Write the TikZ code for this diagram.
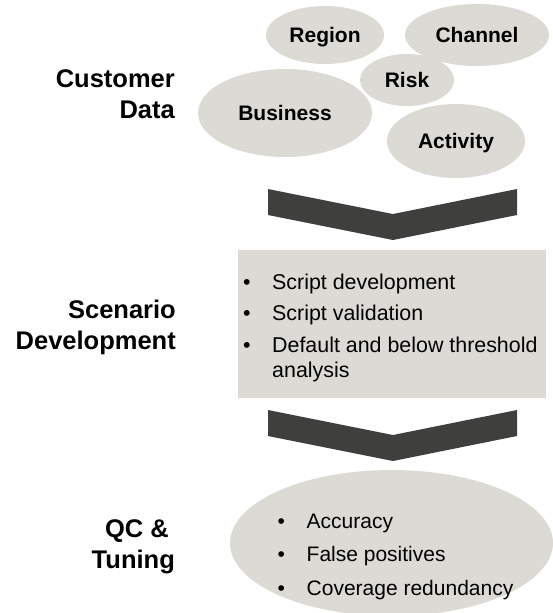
\documentclass[tikz,border=0pt]{standalone}
\usepackage{fontspec}
\setmainfont{Liberation Sans}
\usetikzlibrary{positioning, shapes.geometric}

\definecolor{blobgray}{RGB}{220,218,213}
\definecolor{chevgray}{RGB}{63,63,61}

\tikzset{
    blob/.style={ellipse, fill=blobgray, draw=none, inner sep=0pt},
    panel/.style={rectangle, fill=blobgray, draw=none, inner sep=0pt},
    chevron/.style={fill=chevgray, draw=none},
    bloblabel/.style={font=\fontsize{21}{25}\selectfont\bfseries, text height=15pt, text depth=0pt},
    steplabel/.style={font=\fontsize{25.5}{31}\selectfont\bfseries, align=right, anchor=base east, inner sep=0pt},
    bulletlist/.style={font=\fontsize{21.4}{31.5}\selectfont, align=left, anchor=base west, inner sep=0pt},
}
\newcommand{\bitem}{\makebox[29pt][l]{\textbullet}}

\begin{document}
\begin{tikzpicture}[x=1pt,y=-1pt]
    \useasboundingbox (0,0) rectangle (552,613);

    % customer data
    \node[blob, bloblabel, minimum width=118pt, minimum height=58pt] (region) at (325,35) {Region};
    \node[blob, bloblabel, minimum width=144pt, minimum height=62pt] (channel) at (477,35) {Channel};
    \node[blob, bloblabel, minimum width=94pt, minimum height=52pt] (risk) at (407,80) {Risk};
    \node[blob, bloblabel, minimum width=174pt, minimum height=88pt] (business) at (285,113) {Business};
    \node[blob, bloblabel, minimum width=138pt, minimum height=74pt] (activity) at (456,141) {Activity};
    \node[steplabel] (custlabel) at (175,118) {Customer\\Data};

    % 1
    \fill[chevron] (268,189) -- (393,214) -- (517,189) -- (517,215) -- (393,240) -- (268,215) -- cycle;

    % scenario development
    \node[panel, minimum width=308pt, minimum height=148pt] (scenpanel) at (392,324) {};
    \node[bulletlist] (scenlist) at (243,377)
        {\bitem Script development\\
         \bitem Script validation\\
         \bitem Default and below threshold\\[-6.5pt]
         \hspace*{29pt}analysis};
    \node[steplabel] (scenlabel) at (176,349) {Scenario\\Development};

    % 2
    \fill[chevron] (268,410) -- (393,435) -- (517,410) -- (517,436) -- (393,461) -- (268,436) -- cycle;

    % qc and tuning
    \node[blob, minimum width=323pt, minimum height=146pt] (qcblob) at (391.5,543) {};
    \node[bulletlist, font=\fontsize{21}{33.5}\selectfont] (qclist) at (277.5,595)
        {\bitem Accuracy\\
         \bitem False positives\\
         \bitem Coverage redundancy};
    \node[steplabel] (qclabel) at (175,568) {QC \&\hspace*{6pt}\\Tuning};

\end{tikzpicture}
\end{document}
